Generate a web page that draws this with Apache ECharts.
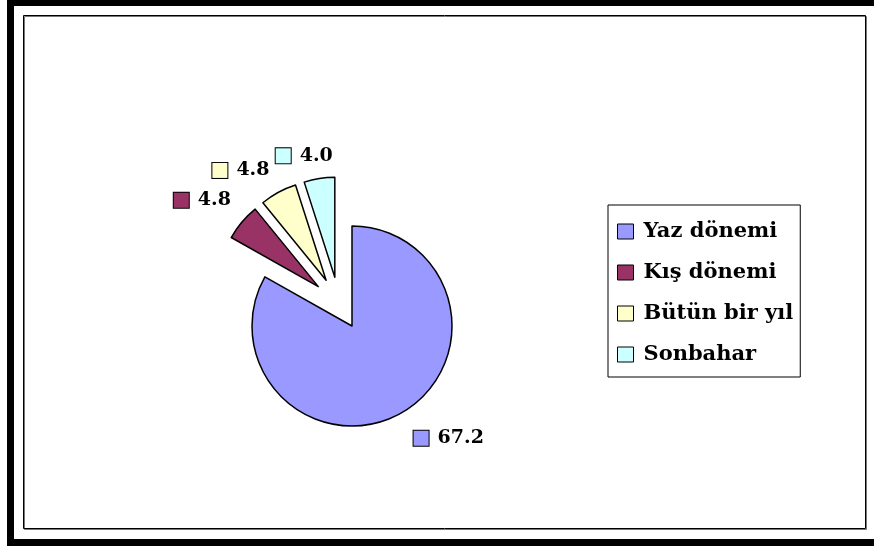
<!DOCTYPE html>
<html>
<head>
<meta charset="utf-8">
<script src="https://cdn.jsdelivr.net/npm/echarts@6/dist/echarts.min.js"></script>
<style>
  html, body { margin: 0; padding: 0; background: #fff; }
  #chart { width: 874px; height: 548px; }
</style>
</head>
<body>
<div id="chart"></div>
<script>
// dönem kategorileri ve değerleri
const categories = ['Yaz dönemi', 'Kış dönemi', 'Bütün bir yıl', 'Sonbahar'];
const values = [67.2, 4.8, 4.8, 4.0];
const colors = ['#9999FF', '#993366', '#FFFFCC', '#CCFFFF'];
const exploded = [false, true, true, true];

const FONT = '"DejaVu Serif", "Times New Roman", serif';
// how far each value label sits from its slice: [length, length2]
const labelReach = [[30, -9], [34, -20], [25, -8], [23, -22]];

// label: small colour key + value
const rich = { v: { fontFamily: FONT, fontWeight: 'bold', fontSize: 19, color: '#000', padding: [0, 0, 0, 9] } };
colors.forEach((c, i) => {
  rich['k' + i] = { width: 15, height: 15, backgroundColor: c, borderColor: '#000', borderWidth: 1 };
});

// one pie shows only the whole slice, the other only the pulled-out ones
function pieData(showExploded) {
  return categories.map((name, i) => {
    const visible = exploded[i] === showExploded;
    return {
      name,
      value: values[i],
      selected: showExploded && exploded[i],
      itemStyle: visible
        ? { color: colors[i], borderColor: '#000', borderWidth: 1.5 }
        : { color: 'transparent', borderWidth: 0 },
      label: { show: visible },
      labelLine: { show: false, length: labelReach[i][0], length2: labelReach[i][1] }
    };
  });
}

const baseSeries = {
  type: 'pie',
  radius: 100,
  startAngle: 90,
  clockwise: true,
  avoidLabelOverlap: false,
  labelLayout: { hideOverlap: false },
  emphasis: { disabled: true },
  label: {
    position: 'outside',
    formatter: p => '{k' + p.dataIndex + '|}{v|' + p.value.toFixed(1) + '}',
    rich
  }
};

const chart = echarts.init(document.getElementById('chart'));
chart.setOption({
  animation: false,
  backgroundColor: '#fff',
  graphic: [
    // outer thick frame
    { type: 'rect', shape: { x: 7, y: 0, width: 867, height: 6 }, style: { fill: '#000' } },
    { type: 'rect', shape: { x: 7, y: 0, width: 7, height: 546 }, style: { fill: '#000' } },
    { type: 'rect', shape: { x: 7, y: 539, width: 867, height: 7 }, style: { fill: '#000' } },
    // inner plot frame
    { type: 'rect', shape: { x: 24.5, y: 16.5, width: 842, height: 513 }, style: { fill: 'none', stroke: '#777', lineWidth: 1 } },
    { type: 'rect', shape: { x: 23.5, y: 15.5, width: 842, height: 513 }, style: { fill: 'none', stroke: '#000', lineWidth: 1 } }
  ],
  legend: {
    orient: 'vertical',
    left: 608,
    top: 205,
    padding: [16, 7, 12, 9],
    itemGap: 20,
    itemWidth: 16,
    itemHeight: 15,
    icon: 'rect',
    borderColor: '#000',
    borderWidth: 1,
    selectedMode: false,
    textStyle: { fontFamily: FONT, fontWeight: 'bold', fontSize: 21, color: '#000', padding: [0, 0, 0, 5] },
    data: categories.map((name, i) => ({
      name,
      itemStyle: { color: colors[i], borderColor: '#000', borderWidth: 1 }
    }))
  },
  series: [
    Object.assign({}, baseSeries, {
      name: 'whole',
      center: [352, 326],
      data: pieData(false)
    }),
    Object.assign({}, baseSeries, {
      name: 'pulled',
      center: [339, 304],
      selectedMode: 'multiple',
      selectedOffset: 27,
      data: pieData(true)
    })
  ]
});
</script>
</body>
</html>
